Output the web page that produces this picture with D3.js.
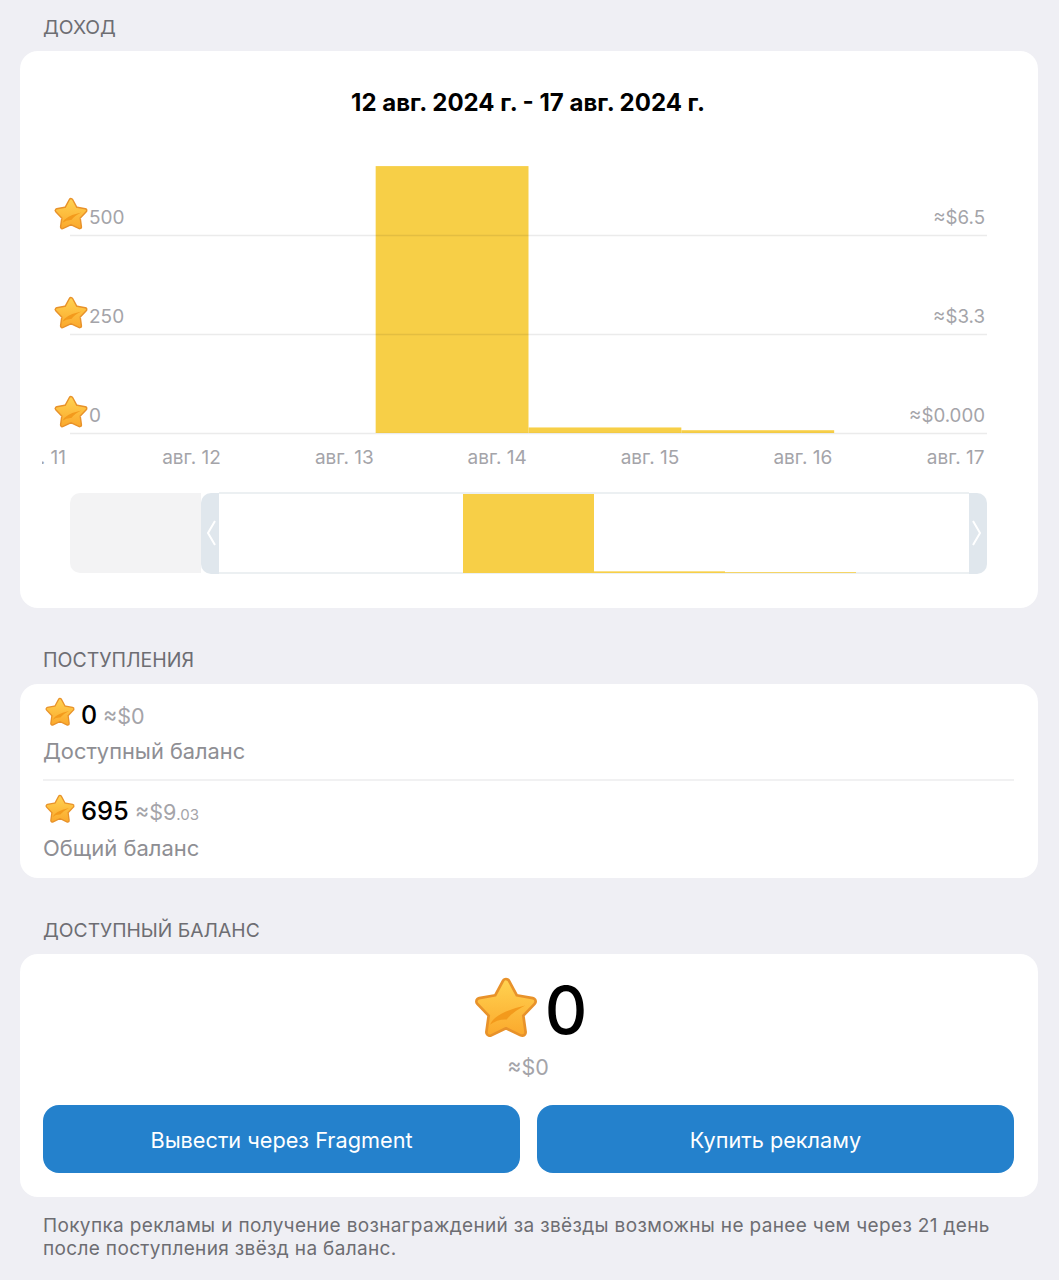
<!DOCTYPE html>
<html lang="ru">
<head>
<meta charset="utf-8">
<title>Доход</title>
<script src="https://cdn.jsdelivr.net/npm/d3@7"></script>
<style>
  body { margin: 0; background: #efeff4; }
  svg { display: block; }
  text { font-family: Inter, "Noto Sans", sans-serif; }
</style>
</head>
<body>
<svg id="chart" width="1059" height="1280"></svg>
<script>
'use strict';

// bars, one per day of august
const bar_days = [14, 15, 16];
const bar_stars = [674, 14, 7];

const y_ticks = [0, 250, 500];
const y_usd_labels = ['≈$0.000', '≈$3.3', '≈$6.5'];
const x_days = [11, 12, 13, 14, 15, 16, 17];
const x_prefix = 'авг. ';

const range_title = '12 авг. 2024 г. - 17 авг. 2024 г.';

const yellow = '#f7cf47';
const gray = '#a4a4a9';
const section_gray = '#6d6d72';

const svg = d3.select('#chart');
const defs = svg.append('defs');

const star_gradient = defs.append('linearGradient')
  .attr('id', 'star-fill').attr('x1', 0).attr('y1', 0).attr('x2', 0).attr('y2', 1);
star_gradient.append('stop').attr('offset', '0%').attr('stop-color', '#ffd04f');
star_gradient.append('stop').attr('offset', '100%').attr('stop-color', '#fbab2e');

defs.append('clipPath').attr('id', 'tick-clip')
  .append('rect').attr('x', 42).attr('y', 440).attr('width', 950).attr('height', 40);

function star_path() {
  const pts = d3.range(10).map(i => {
    const r = i % 2 ? 0.45 : 0.86;
    const a = -Math.PI / 2 + i * Math.PI / 5;
    return [r * Math.cos(a), r * Math.sin(a)];
  });
  return d3.line()(pts) + 'Z';
}

function draw_star(cx, cy, r) {
  const g = svg.append('g').attr('transform', `translate(${cx},${cy}) scale(${r})`);
  g.append('path').attr('d', star_path())
    .attr('fill', '#e8922a').attr('stroke', '#e8922a')
    .attr('stroke-width', 0.3).attr('stroke-linejoin', 'round');
  g.append('path').attr('d', star_path())
    .attr('fill', 'url(#star-fill)').attr('stroke', 'url(#star-fill)')
    .attr('stroke-width', 0.13).attr('stroke-linejoin', 'round');
  // the crease across the star
  g.append('path').attr('d', 'M-0.5 0.46 Q-0.35 0.08 0.6 -0.14 Q0.2 0.06 0.02 0.3 Q-0.25 0.28 -0.5 0.46Z')
    .attr('fill', '#f39a1c');
}

function label(x, y, str, size, fill, anchor, weight) {
  return svg.append('text')
    .attr('x', x).attr('y', y)
    .attr('font-size', size)
    .attr('fill', fill)
    .attr('text-anchor', anchor || 'start')
    .attr('font-weight', weight || 400)
    .text(str);
}

// cards
const cards = [[51, 557], [684, 194], [954, 243]];
svg.selectAll('rect.card').data(cards).join('rect')
  .attr('class', 'card')
  .attr('x', 20).attr('y', d => d[0])
  .attr('width', 1018).attr('height', d => d[1])
  .attr('rx', 18).attr('fill', '#fff');

label(43, 34, 'ДОХОД', 19.3, section_gray);
label(43, 667, 'ПОСТУПЛЕНИЯ', 19.5, section_gray);
label(43, 937, 'ДОСТУПНЫЙ БАЛАНС', 19.3, section_gray);

label(528, 111, range_title, 24, '#000', 'middle', 700);

// main chart
const x = d3.scaleLinear().domain([12, 18]).range([70, 987]);
const y = d3.scaleLinear().domain([0, 500]).range([433, 235]);

svg.selectAll('rect.bar').data(bar_days).join('rect')
  .attr('class', 'bar')
  .attr('x', d => x(d))
  .attr('width', d => x(d + 1) - x(d))
  .attr('y', (d, i) => y(bar_stars[i]))
  .attr('height', (d, i) => y(0) - y(bar_stars[i]))
  .attr('fill', yellow);

const grid_axis = d3.axisLeft(y).tickValues(y_ticks).tickSize(-(x.range()[1] - x.range()[0])).tickFormat('');
const grid = svg.append('g').attr('transform', `translate(${x.range()[0]},0)`).call(grid_axis);
grid.select('.domain').remove();
grid.selectAll('line').attr('stroke', '#000').attr('stroke-opacity', 0.08).attr('stroke-width', 1.5);

y_ticks.forEach((t, i) => {
  draw_star(71, y(t) - 20, 17);
  label(89, y(t) - 11, String(t), 19, gray);
  label(985, y(t) - 11, y_usd_labels[i], 18.7, gray, 'end');
});

// tick label sits just under 0.8 of a day right of the bar's left edge
const tick_group = svg.append('g').attr('clip-path', 'url(#tick-clip)');
tick_group.selectAll('text').data(x_days).join('text')
  .attr('x', d => x(d + 0.795))
  .attr('y', 464)
  .attr('text-anchor', 'middle')
  .attr('font-size', 19)
  .attr('fill', gray)
  .text(d => x_prefix + d);

// navigator under the chart
const x_mini = d3.scaleLinear().domain([11, 18]).range([70, 987]);
const y_mini = d3.scaleLinear().domain([0, 674]).range([573, 494]);
const nav_left = x_mini(12);
const nav_right = x_mini(18);

svg.append('path')
  .attr('d', `M${nav_left} 493H80a10 10 0 0 0 -10 10V563a10 10 0 0 0 10 10H${nav_left}Z`)
  .attr('fill', '#f3f3f4');

[493, 573].forEach(ly => {
  svg.append('line')
    .attr('x1', nav_left + 18).attr('x2', nav_right - 18)
    .attr('y1', ly).attr('y2', ly)
    .attr('stroke', '#e6ebee').attr('stroke-width', 1.5);
});

svg.selectAll('rect.mini').data(bar_days).join('rect')
  .attr('class', 'mini')
  .attr('x', d => x_mini(d))
  .attr('width', d => x_mini(d + 1) - x_mini(d))
  .attr('y', (d, i) => y_mini(bar_stars[i]))
  .attr('height', (d, i) => y_mini(0) - y_mini(bar_stars[i]))
  .attr('fill', yellow);

const handle_color = '#e0e7ed';
svg.append('path')
  .attr('d', `M${nav_left + 18} 493H${nav_left + 10}a10 10 0 0 0 -10 10V564a10 10 0 0 0 10 10H${nav_left + 18}Z`)
  .attr('fill', handle_color);
svg.append('path')
  .attr('d', `M${nav_right - 18} 493H${nav_right - 10}a10 10 0 0 1 10 10V564a10 10 0 0 1 -10 10H${nav_right - 18}Z`)
  .attr('fill', handle_color);
svg.append('path').attr('d', `M${nav_left + 14} 521L${nav_left + 7} 533L${nav_left + 14} 545`)
  .attr('fill', 'none').attr('stroke', '#fff').attr('stroke-width', 2);
svg.append('path').attr('d', `M${nav_right - 14} 521L${nav_right - 7} 533L${nav_right - 14} 545`)
  .attr('fill', 'none').attr('stroke', '#fff').attr('stroke-width', 2);

// balances
draw_star(60, 713, 15);
label(81, 723.5, '0', 25, '#000', 'start', 500);
label(103, 723.5, '≈$0', 21.5, gray);
label(43, 759, 'Доступный баланс', 21.8, '#8e8e93');

svg.append('line').attr('x1', 43).attr('x2', 1014).attr('y1', 780).attr('y2', 780)
  .attr('stroke', '#e4e4e6').attr('stroke-width', 1.2);

draw_star(60, 810, 15);
label(81, 820, '695', 25.5, '#000', 'start', 500);
const usd = label(135, 820, '≈$9', 21.5, gray);
usd.append('tspan').attr('font-size', 15).text('.03');
label(43, 856, 'Общий баланс', 22, '#8e8e93');

// available balance
draw_star(506, 1010, 32);
label(566, 1034, '0', 66, '#000', 'middle', 500);
label(528, 1075, '≈$0', 21.5, gray, 'middle');

const buttons = [[43, 'Вывести через Fragment'], [537, 'Купить рекламу']];
svg.selectAll('rect.btn').data(buttons).join('rect')
  .attr('class', 'btn')
  .attr('x', d => d[0]).attr('y', 1105)
  .attr('width', 477).attr('height', 68)
  .attr('rx', 16).attr('fill', '#2481cc');
buttons.forEach(b => label(b[0] + 238.5, 1148, b[1], 21.7, '#fff', 'middle'));

label(43, 1232, 'Покупка рекламы и получение вознаграждений за звёзды возможны не ранее чем через 21 день', 19, section_gray)
  .attr('letter-spacing', 0.35);
label(43, 1255, 'после поступления звёзд на баланс.', 19, section_gray)
  .attr('letter-spacing', 0.35);
</script>
</body>
</html>
